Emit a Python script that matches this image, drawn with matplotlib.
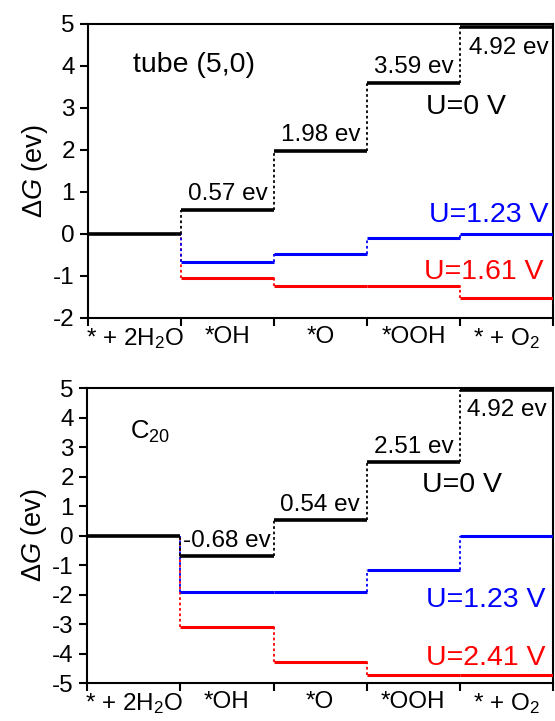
import matplotlib
matplotlib.use("Agg")
import matplotlib.pyplot as plt

plt.rcParams['font.family'] = ['Liberation Sans', 'DejaVu Sans']
plt.rcParams['axes.unicode_minus'] = False
plt.rcParams['mathtext.fontset'] = 'custom'
plt.rcParams['mathtext.rm'] = 'Liberation Sans'
plt.rcParams['mathtext.it'] = 'Liberation Sans:italic'

steps = ['* + 2H$_2$O', '*OH', '*O', '*OOH', '* + O$_2$']

# tube (5,0)
tube_u0 = [0, 0.57, 1.98, 3.59, 4.92]
tube_u123 = [0, -0.66, -0.48, -0.10, 0.00]
tube_u161 = [0, -1.04, -1.24, -1.24, -1.52]
tube_lbl = ['0.57 ev', '1.98 ev', '3.59 ev', '4.92 ev']

# C20
c20_u0 = [0, -0.68, 0.54, 2.51, 4.92]
c20_u123 = [0, -1.91, -1.92, -1.18, 0.00]
c20_u241 = [0, -3.09, -4.28, -4.72, -4.72]
c20_lbl = ['-0.68 ev', '0.54 ev', '2.51 ev', '4.92 ev']

FS_EV = 17.5
FS_U = 20.5


def levels(ax, vals, color, lw, first=True):
    start = 0 if first else 1
    for i in range(start, len(vals)):
        ax.hlines(vals[i], i, i + 1, color=color, lw=lw, zorder=3)
    for i in range(1, len(vals)):
        ax.vlines(i, min(vals[i - 1], vals[i]), max(vals[i - 1], vals[i]),
                  color=color, lw=1.3, linestyles=(0, (1.5, 1.5)), zorder=2)


def style(ax, ylim, yticks):
    ax.set_xlim(0, 5)
    ax.set_ylim(*ylim)
    ax.set_yticks(yticks)
    ax.set_xticks(range(6))
    ax.set_xticklabels([])
    ax.set_xticks([0.5, 1.5, 2.5, 3.5, 4.5], minor=True)
    ax.set_xticklabels(steps, minor=True)
    ax.tick_params(axis='x', which='minor', length=0, pad=6, labelsize=17.5)
    ax.tick_params(axis='both', which='major', direction='out', length=6,
                   width=1.5, labelsize=17.5)
    for s in ax.spines.values():
        s.set_linewidth(1.5)
    ax.set_ylabel('$\\Delta$$\\mathit{G}$ (ev)', fontsize=19.5, labelpad=2)


fig = plt.figure(figsize=(5.55, 7.21), dpi=100)
ax1 = fig.add_axes([0.1586, 0.559, 0.838, 0.408])
ax2 = fig.add_axes([0.1568, 0.0527, 0.840, 0.409])

# top panel
levels(ax1, tube_u161, 'red', 2.2, first=False)
levels(ax1, tube_u123, 'blue', 2.2, first=False)
levels(ax1, tube_u0, 'black', 2.6)
for i, t in enumerate(tube_lbl[:3]):
    ax1.text(i + 1.5, tube_u0[i + 1] + 0.12, t, ha='center', va='bottom', fontsize=FS_EV)
ax1.text(4.52, 4.43, tube_lbl[3], ha='center', va='center', fontsize=FS_EV)
ax1.text(0.48, 4.02, 'tube (5,0)', ha='left', va='center', fontsize=FS_U)
ax1.text(4.06, 3.02, 'U=0 V', ha='center', va='center', fontsize=FS_U)
ax1.text(4.95, 0.45, 'U=1.23 V', ha='right', va='center', fontsize=FS_U, color='blue')
ax1.text(4.9, -0.9, 'U=1.61 V', ha='right', va='center', fontsize=FS_U, color='red')
style(ax1, (-2, 5), range(-2, 6))

# bottom panel
levels(ax2, c20_u241, 'red', 2.2, first=False)
levels(ax2, c20_u123, 'blue', 2.2, first=False)
levels(ax2, c20_u0, 'black', 2.6)
for i, t in enumerate(c20_lbl[:3]):
    ax2.text(i + 1.5, c20_u0[i + 1] + 0.12, t, ha='center', va='bottom', fontsize=FS_EV)
ax2.text(4.5, 4.25, c20_lbl[3], ha='center', va='center', fontsize=FS_EV)
ax2.text(0.46, 3.5, 'C$_{20}$', ha='left', va='center', fontsize=18.5)
ax2.text(4.02, 1.71, 'U=0 V', ha='center', va='center', fontsize=FS_U)
ax2.text(4.92, -2.19, 'U=1.23 V', ha='right', va='center', fontsize=FS_U, color='blue')
ax2.text(4.92, -4.15, 'U=2.41 V', ha='right', va='center', fontsize=FS_U, color='red')
style(ax2, (-5, 5), range(-5, 6))

fig.savefig('out.png', dpi=100)
